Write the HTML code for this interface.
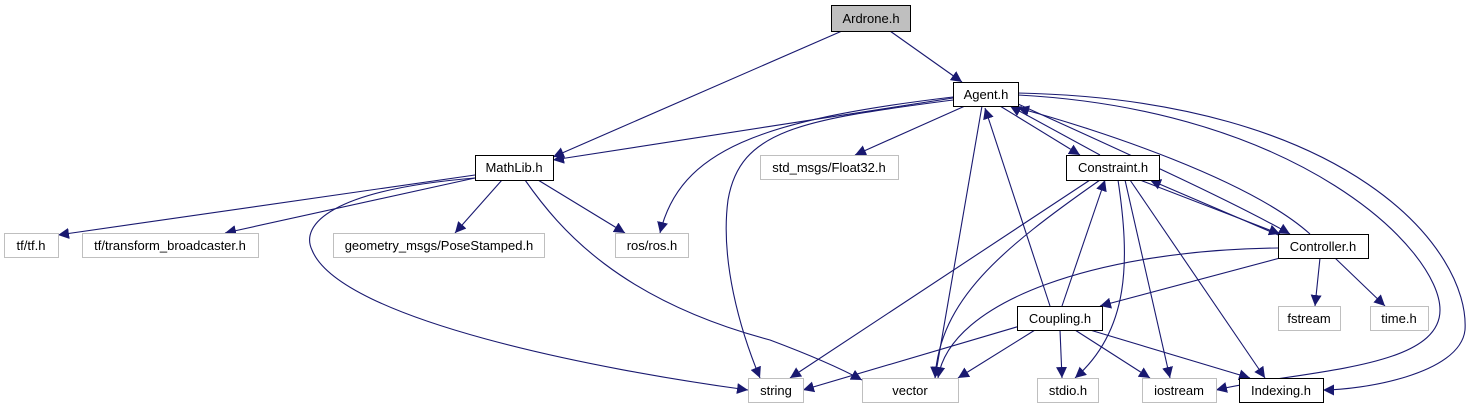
<!DOCTYPE html>
<html><head><meta charset="utf-8"><style>
body{margin:0;background:#fff;width:1474px;height:411px;overflow:hidden}
text{font-family:"Liberation Sans",sans-serif;font-size:13px;text-anchor:middle}
</style></head><body>
<svg width="1474" height="411" viewBox="0 0 1474 411" xmlns="http://www.w3.org/2000/svg">
<defs><marker id="a" viewBox="0 0 10 10" refX="10" refY="5" markerWidth="11" markerHeight="11" markerUnits="userSpaceOnUse" orient="auto"><path d="M0,0L10,5L0,10z" fill="#191970"/></marker></defs>
<g fill="none" stroke="#191970" stroke-width="1.1" marker-end="url(#a)">
<path d="M890,31L962,82"/>
<path d="M842,31L553,157"/>
<path d="M953,98L553,160"/>
<path d="M965,106L855,155"/>
<path d="M953,97C760,120 680,150 660,233"/>
<path d="M953,100C800,120 740,130 728,200C720,260 740,330 760,378"/>
<path d="M982,106L935,378"/>
<path d="M1000,106L1080,155"/>
<path d="M1100,155L1010,106"/>
<path d="M1018,104C1120,150 1230,200 1290,234"/>
<path d="M1310,234C1250,180 1100,130 1018,108"/>
<path d="M1018,95C1300,110 1440,250 1440,310C1440,370 1300,370 1216,390"/>
<path d="M1018,93C1350,100 1470,250 1465,330C1460,375 1360,390 1323,390"/>
<path d="M1050,306L985,108"/>
<path d="M475,175L58,235"/>
<path d="M475,178L225,233"/>
<path d="M502,180L455,233"/>
<path d="M538,180L625,233"/>
<path d="M475,178C330,190 300,225 312,250C340,320 600,370 748,390"/>
<path d="M525,180C560,230 620,300 770,340C810,355 840,368 862,380"/>
<path d="M1090,180L790,378"/>
<path d="M1100,180C1000,250 940,300 935,378"/>
<path d="M1118,180C1130,260 1130,330 1075,378"/>
<path d="M1125,180L1170,378"/>
<path d="M1130,180L1265,378"/>
<path d="M1140,180L1280,234"/>
<path d="M1290,240L1150,180"/>
<path d="M1062,306L1105,180"/>
<path d="M1278,248C1100,250 950,300 938,378"/>
<path d="M1280,258L1100,306"/>
<path d="M1320,258L1315,306"/>
<path d="M1335,258L1385,306"/>
<path d="M1020,326L803,390"/>
<path d="M1035,330L958,378"/>
<path d="M1060,330L1062,378"/>
<path d="M1075,330L1150,378"/>
<path d="M1090,330L1250,378"/>
</g>
<g stroke-width="1">
<rect x="831.5" y="5.5" width="79" height="26" fill="#bfbfbf" stroke="#000"/>
<rect x="953.5" y="82.5" width="65" height="24" fill="#fff" stroke="#000"/>
<rect x="475.5" y="155.5" width="78" height="25" fill="#fff" stroke="#000"/>
<rect x="760.5" y="155.5" width="138" height="24" fill="#fff" stroke="#bfbfbf"/>
<rect x="1066.5" y="155.5" width="93" height="25" fill="#fff" stroke="#000"/>
<rect x="4.5" y="233.5" width="54" height="24" fill="#fff" stroke="#bfbfbf"/>
<rect x="82.5" y="233.5" width="176" height="24" fill="#fff" stroke="#bfbfbf"/>
<rect x="333.5" y="233.5" width="211" height="24" fill="#fff" stroke="#bfbfbf"/>
<rect x="615.5" y="233.5" width="73" height="24" fill="#fff" stroke="#bfbfbf"/>
<rect x="1278.5" y="234.5" width="90" height="24" fill="#fff" stroke="#000"/>
<rect x="1017.5" y="306.5" width="85" height="24" fill="#fff" stroke="#000"/>
<rect x="1278.5" y="306.5" width="62" height="24" fill="#fff" stroke="#bfbfbf"/>
<rect x="1370.5" y="306.5" width="58" height="24" fill="#fff" stroke="#bfbfbf"/>
<rect x="748.5" y="378.5" width="55" height="24" fill="#fff" stroke="#bfbfbf"/>
<rect x="862.5" y="378.5" width="96" height="24" fill="#fff" stroke="#bfbfbf"/>
<rect x="1037.5" y="378.5" width="61" height="24" fill="#fff" stroke="#bfbfbf"/>
<rect x="1142.5" y="378.5" width="74" height="24" fill="#fff" stroke="#bfbfbf"/>
<rect x="1239.5" y="378.5" width="84" height="24" fill="#fff" stroke="#000"/>
</g>
<g fill="#000">
<text x="871" y="23">Ardrone.h</text>
<text x="986" y="99">Agent.h</text>
<text x="514" y="172">MathLib.h</text>
<text x="829" y="172">std_msgs/Float32.h</text>
<text x="1113" y="172">Constraint.h</text>
<text x="31" y="250">tf/tf.h</text>
<text x="170" y="250">tf/transform_broadcaster.h</text>
<text x="439" y="250">geometry_msgs/PoseStamped.h</text>
<text x="652" y="250">ros/ros.h</text>
<text x="1323" y="251">Controller.h</text>
<text x="1060" y="323">Coupling.h</text>
<text x="1309" y="323">fstream</text>
<text x="1399" y="323">time.h</text>
<text x="776" y="395">string</text>
<text x="910" y="395">vector</text>
<text x="1068" y="395">stdio.h</text>
<text x="1179" y="395">iostream</text>
<text x="1281" y="395">Indexing.h</text>
</g>
</svg>
</body></html>
